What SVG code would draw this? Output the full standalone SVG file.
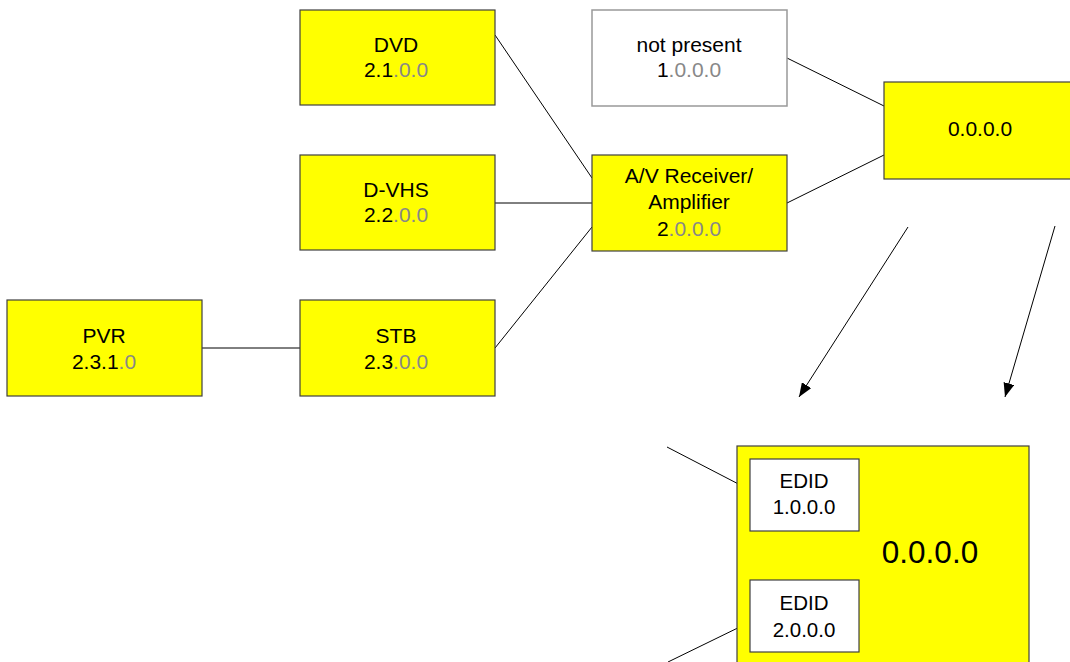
<svg xmlns="http://www.w3.org/2000/svg" width="1070" height="662" viewBox="0 0 1070 662">
<style>
.box{fill:#ffff00;stroke:#404040;stroke-width:1.2}
.np{fill:#ffffff;stroke:#999999;stroke-width:1.5}
.ed{fill:#ffffff;stroke:#404040;stroke-width:1.2}
text{font-family:"Liberation Sans",Arial,sans-serif;font-size:21px;fill:#000;text-anchor:middle}
.g{fill:#888888}
.big{font-size:31.5px}
.e{font-size:20.5px}
.c line{stroke:#000;stroke-width:1}
</style>
<defs>
<marker id="ah" viewBox="0 0 14 11" refX="14" refY="5.5" markerWidth="14" markerHeight="11" markerUnits="userSpaceOnUse" orient="auto">
<path d="M0,0 L14,5.5 L0,11 z" fill="#000"/>
</marker>
</defs>
<g class="c" id="connectors">
<line x1="495" y1="35" x2="592" y2="178"/>
<line x1="495" y1="203" x2="592" y2="203"/>
<line x1="495" y1="348" x2="592" y2="227"/>
<line x1="202" y1="348" x2="300" y2="348"/>
<line x1="787" y1="58" x2="884" y2="106"/>
<line x1="787" y1="203" x2="884" y2="155"/>
<line x1="908" y1="227" x2="799" y2="397" marker-end="url(#ah)"/>
<line x1="1055" y1="226" x2="1005" y2="397" marker-end="url(#ah)"/>
<line x1="667" y1="447" x2="750" y2="490"/>
<line x1="750" y1="622" x2="668" y2="662"/>
</g>
<g id="dvd"><rect class="box" x="300" y="10" width="195" height="95"/>
<text x="396" y="52">DVD</text><text x="396" y="77">2.1<tspan class="g">.0.0</tspan></text></g>
<g id="dvhs"><rect class="box" x="300" y="155" width="195" height="95"/>
<text x="396" y="197">D-VHS</text><text x="396" y="222">2.2<tspan class="g">.0.0</tspan></text></g>
<g id="stb"><rect class="box" x="300" y="300" width="195" height="96"/>
<text x="396" y="343">STB</text><text x="396" y="369">2.3<tspan class="g">.0.0</tspan></text></g>
<g id="pvr"><rect class="box" x="7" y="300" width="195" height="96"/>
<text x="104" y="343">PVR</text><text x="104" y="369">2.3.1<tspan class="g">.0</tspan></text></g>
<g id="notpresent"><rect class="np" x="592" y="10" width="195" height="96"/>
<text x="689" y="52">not present</text><text x="689" y="77">1<tspan class="g">.0.0.0</tspan></text></g>
<g id="avr"><rect class="box" x="592" y="155" width="195" height="96"/>
<text x="689" y="183">A/V Receiver/</text><text x="689" y="209">Amplifier</text><text x="689" y="236">2<tspan class="g">.0.0.0</tspan></text></g>
<g id="tv"><rect class="box" x="884" y="82" width="200" height="97"/>
<text x="980" y="136">0.0.0.0</text></g>
<g id="tvdetail"><rect class="box" x="737" y="446" width="292" height="230"/>
<text class="big" x="930" y="563">0.0.0.0</text></g>
<g id="edid1"><rect class="ed" x="750" y="459" width="109" height="72"/>
<text class="e" x="804" y="488">EDID</text><text class="e" x="804" y="514">1.0.0.0</text></g>
<g id="edid2"><rect class="ed" x="750" y="580" width="109" height="72"/>
<text class="e" x="804" y="610">EDID</text><text class="e" x="804" y="637">2.0.0.0</text></g>
</svg>
